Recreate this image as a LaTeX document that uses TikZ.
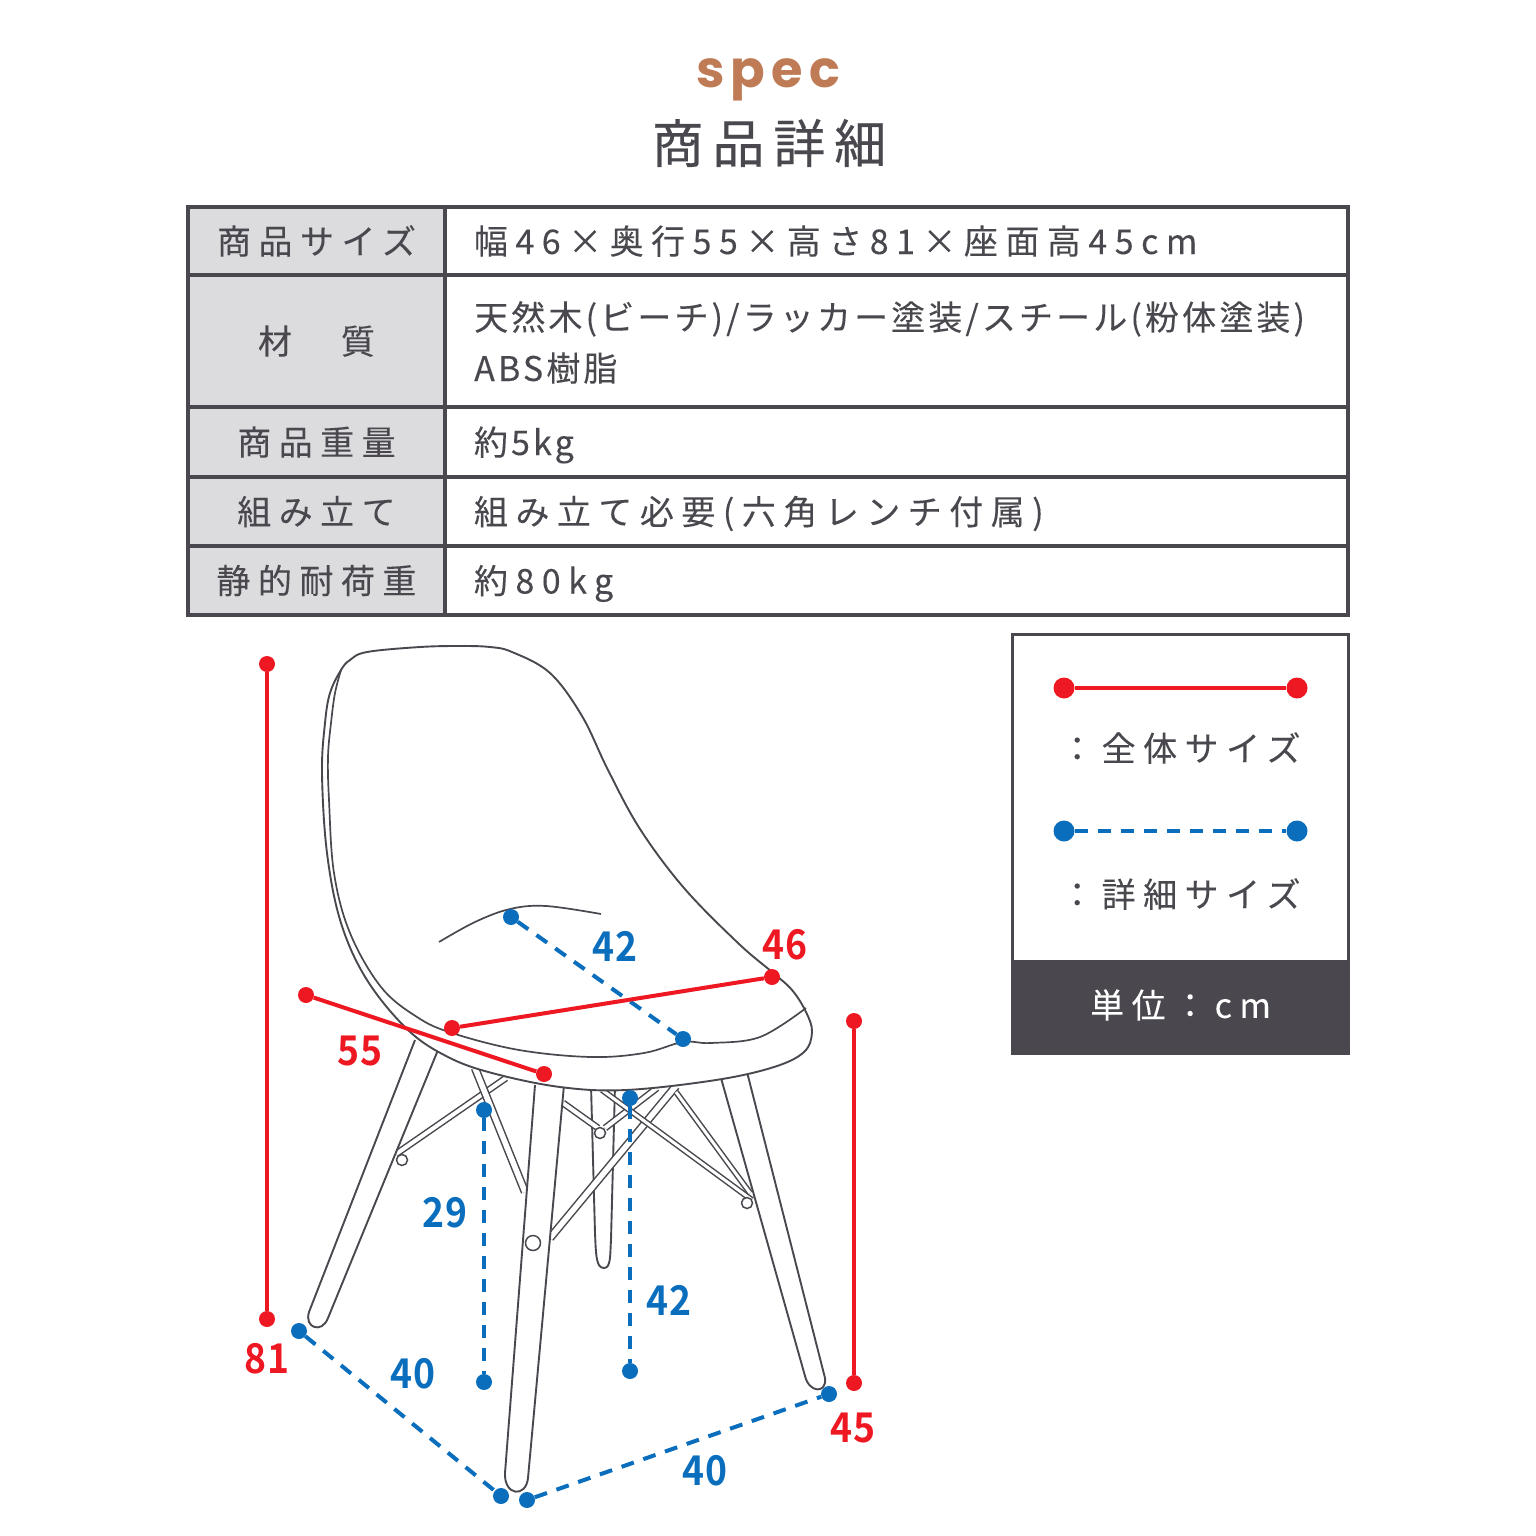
\documentclass[tikz,border=0pt]{standalone}
\usepackage{fontspec}
\usetikzlibrary{positioning}
\setmainfont{Noto Sans CJK JP}
\newfontfamily\jpwide[LetterSpace=22,FakeBold=0.1]{Noto Sans CJK JP}
\newfontfamily\jpmid[LetterSpace=9.2,FakeBold=0.1]{Noto Sans CJK JP}
\newfontfamily\jptitle[LetterSpace=17,FakeBold=0.4]{Noto Sans CJK JP}
\newfontfamily\jpnum[BoldFont={Noto Sans CJK JP Bold},BoldFeatures={FakeStretch=0.91}]{Noto Sans CJK JP}
\newfontfamily\specfont[LetterSpace=12]{Poppins}
\definecolor{ink}{HTML}{4A484E}
\definecolor{keygrey}{HTML}{DCDCDE}
\definecolor{dimred}{HTML}{EE1822}
\definecolor{dimblue}{HTML}{0A6EBD}
\definecolor{spectan}{HTML}{BF7B55}
\tikzset{
  keycell/.style={draw=ink,fill=keygrey,line width=3.5pt,minimum width=257pt,inner sep=0pt,outer sep=0pt,text=ink,
    font=\fontsize{34}{40}\selectfont\jpwide,text height=30pt,text depth=4pt},
  valcell/.style={draw=ink,line width=3.5pt,minimum width=903pt,text width=845pt,inner xsep=29pt,inner ysep=0pt,outer sep=0pt,align=left,text=ink,
    font=\fontsize{34}{40}\selectfont\jpwide,text height=30pt,text depth=4pt},
  valtext/.style={anchor=west,inner sep=0pt,text=ink,font=\fontsize{34}{40}\selectfont\jpmid,text height=30pt,text depth=4pt},
  legendtext/.style={anchor=west,inner sep=0pt,text=ink,font=\fontsize{34}{40}\selectfont\jpwide},
  chair/.style={draw=ink,line width=1.9pt,fill=white,line join=round},
  wire/.style={draw=ink,line width=1.7pt},
  rod/.style={draw=ink,line width=1.5pt,double=white,double distance=4pt},
  bolt/.style={circle,draw=ink,fill=white,line width=1.5pt,inner sep=0pt,minimum size=#1},
  reddot/.style={circle,fill=dimred,inner sep=0pt,minimum size=#1},
  bluedot/.style={circle,fill=dimblue,inner sep=0pt,minimum size=#1},
  redline/.style={draw=dimred,line width=4pt},
  blueline/.style={draw=dimblue,line width=4pt,dash pattern=on 13pt off 10pt},
  rednum/.style={text=dimred,font=\fontsize{41}{41}\selectfont\jpnum\bfseries,inner sep=0pt},
  bluenum/.style={text=dimblue,font=\fontsize{41}{41}\selectfont\jpnum\bfseries,inner sep=0pt},
}
\begin{document}
\begin{tikzpicture}[x=1pt,y=-1pt]
  \useasboundingbox (0,0) rectangle (1536,1536);
  \node (spec) [anchor=base,text=spectan,font=\fontsize{51}{51}\selectfont\specfont\bfseries,inner sep=0pt] at (768,88) {spec};
  \node (title) [text=ink,font=\fontsize{52}{52}\selectfont\jptitle,inner sep=0pt] at (769,143) {商品詳細};

  \node (k1) [keycell,minimum height=68pt] at (316.5,241) {商品サイズ};
  \node (k2) [keycell,minimum height=132pt,below=0pt of k1] {材　質};
  \node (k3) [keycell,minimum height=70pt,below=0pt of k2] {商品重量};
  \node (k4) [keycell,minimum height=69pt,below=0pt of k3] {組み立て};
  \node (k5) [keycell,minimum height=69pt,below=0pt of k4] {静的耐荷重};
  \node (v1) [valcell,minimum height=68pt,right=0pt of k1] {幅46×奥行55×高さ81×座面高45cm};
  \node (v2) [valcell,minimum height=132pt,right=0pt of k2] {};
  \node (v3) [valcell,minimum height=70pt,right=0pt of k3,font=\fontsize{34}{40}\selectfont\jpmid] {約5kg};
  \node (v4) [valcell,minimum height=69pt,right=0pt of k4] {組み立て必要(六角レンチ付属)};
  \node (v5) [valcell,minimum height=69pt,right=0pt of k5] {約80kg};
  \node (m1) [valtext] at (474,317) {天然木(ビーチ)/ラッカー塗装/スチール(粉体塗装)};
  \node (m2) [valtext] at (474,368) {ABS樹脂};

  \node (legend) [draw=ink,line width=3.5pt,minimum width=336pt,minimum height=419pt,inner sep=0pt] at (1180.5,844) {};
  \node (unit) [fill=ink,minimum width=338pt,minimum height=94pt,inner sep=0pt] at (1181,1007) {};
  \node (unitlabel) [anchor=west,text=white,inner sep=0pt,font=\fontsize{34}{40}\selectfont\jpwide] at (1090,1005) {単位：cm};
  \node (a1) [reddot=21pt] at (1064,688) {};
  \node (a2) [reddot=21pt] at (1297,688) {};
  \node (b1) [bluedot=21pt] at (1064,831) {};
  \node (b2) [bluedot=21pt] at (1297,831) {};
  \draw[redline] (a1) -- (a2);
  \draw[blueline] (b1) -- (b2);
  \node (whole) [legendtext] at (1060,748) {：全体サイズ};
  \node (detail) [legendtext] at (1060,894) {：詳細サイズ};

  \draw[chair] (591,1085) -- (595,1233) .. controls (596,1255) and (596,1268) .. (604,1268) .. controls (611,1268) and (610,1255) .. (611,1240) -- (615,1085);
  \draw[rod] (396,1154) -- (506,1078);
  \draw[rod,double distance=5.5pt] (475,1068) -- (525,1192);
  \draw[rod] (563,1103) -- (598,1128);
  \draw[rod] (605,1128) -- (657,1088);
  \draw[rod,double distance=5.5pt] (550,1238) -- (676,1086);
  \draw[rod,double distance=3pt] (602,1090) -- (752,1200);
  \draw[rod,double distance=3pt] (676,1092) -- (750,1193);
  \node (bolta) [bolt=11pt] at (402,1160) {};
  \node (boltb) [bolt=11pt] at (600,1133) {};
  \node (boltc) [bolt=11pt] at (747,1203) {};
  \draw[chair] (415,1040) -- (309,1312) .. controls (304,1328) and (322,1334) .. (328,1318) -- (438,1050);
  \draw[chair] (721,1078) -- (805,1376) .. controls (809,1393) and (827,1394) .. (825,1378) -- (747,1072);
  \draw[chair] (535,1085) -- (505,1473) .. controls (504,1496) and (526,1498) .. (528,1478) -- (564,1085);
  \node (boltd) [bolt=15pt] at (533,1243) {};

  \draw[chair] plot[smooth cycle,tension=0.6] coordinates {(367,652) (420,647) (460,646) (490,647) (512,652) (550,673) (582,716) (608,770) (640,829) (684,888) (738,943) (772,972) (792,990) (806,1012) (812,1032) (804,1052) (774,1067) (716,1080) (626,1090) (560,1087) (492,1073) (448,1057) (408,1030) (367,980) (341,923) (327,853) (322,773) (325,723) (330,693) (341,670) (350,660)};
  \draw[wire] plot[smooth,tension=0.6] coordinates {(341,670) (335,693) (331,723) (328,757) (329,800) (334,873) (350,933) (381,987) (417,1017) (452,1033) (519,1050) (591,1057) (644,1053) (683,1042) (711,1043) (760,1037) (806,1008)};
  \draw[wire] plot[smooth,tension=0.6] coordinates {(439,942) (475,922) (510,909) (546,906) (601,914)};

  \node (h1) [reddot=16pt] at (267,664) {};
  \node (h2) [reddot=16pt] at (267,1319) {};
  \node (w1) [reddot=16pt] at (452,1028) {};
  \node (w2) [reddot=16pt] at (772,977) {};
  \node (d1) [reddot=16pt] at (306,995) {};
  \node (d2) [reddot=16pt] at (544,1074) {};
  \node (s1) [reddot=16pt] at (854,1021) {};
  \node (s2) [reddot=16pt] at (854,1383) {};
  \node (e1) [bluedot=16pt] at (511,917) {};
  \node (e2) [bluedot=16pt] at (683,1039) {};
  \node (f1) [bluedot=16pt] at (484,1110) {};
  \node (f2) [bluedot=16pt] at (484,1382) {};
  \node (g1) [bluedot=16pt] at (630,1098) {};
  \node (g2) [bluedot=16pt] at (630,1371) {};
  \node (p1) [bluedot=16pt] at (299,1331) {};
  \node (p2) [bluedot=16pt] at (501,1496) {};
  \node (q1) [bluedot=16pt] at (527,1500) {};
  \node (q2) [bluedot=16pt] at (829,1394) {};
  \draw[blueline] (e1) -- (e2);
  \draw[blueline] (f1) -- (f2);
  \draw[blueline] (g1) -- (g2);
  \draw[blueline] (p1) -- (p2);
  \draw[blueline] (q1) -- (q2);
  \draw[redline] (h1) -- (h2);
  \draw[redline] (w1) -- (w2);
  \draw[redline] (d1) -- (d2);
  \draw[redline] (s1) -- (s2);

  \node (n81) [rednum] at (267,1359) {81};
  \node (n46) [rednum] at (785,945) {46};
  \node (n55) [rednum] at (360,1051) {55};
  \node (n45) [rednum] at (853,1428) {45};
  \node (n42a) [bluenum] at (615,946) {42};
  \node (n29) [bluenum] at (445,1213) {29};
  \node (n42b) [bluenum] at (669,1300) {42};
  \node (n40a) [bluenum] at (413,1374) {40};
  \node (n40b) [bluenum] at (705,1471) {40};
\end{tikzpicture}
\end{document}
